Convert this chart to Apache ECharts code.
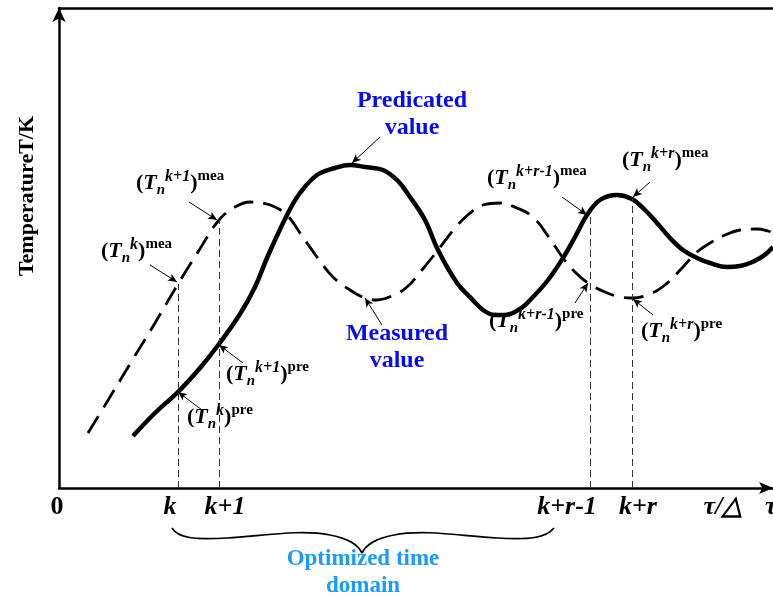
<!DOCTYPE html>
<html><head><meta charset="utf-8">
<script src="https://cdn.jsdelivr.net/npm/echarts@6/dist/echarts.min.js"></script>
<style>html,body{margin:0;padding:0;background:#fff}#c{width:773px;height:599px}</style>
</head><body><div id="c"></div>
<script>
const SERIF = "'Times New Roman','Liberation Serif',serif";

// Predicted temperature (solid curve)
const predX = [74,96,119,141,160,181,196,208,228,241,258,276,291,306,324,339,351,366,379,398,411,424,436,446,461,474,489,504,516,528,541,558,573,586,598,611,624,638,651,668,681,691,701,708,714];
const predY = [52,75,96,120,144,174,201,230,273,295,313,320,323,321,318,307,291,268,238,205,191,178,173,173,179,191,208,230,251,273,288,293,289,278,265,250,238,230,225,221,222,225,230,235,241];
// Measured temperature (dashed curve)
const meaX = [29,51,74,96,119,139,160,176,191,203,216,228,241,258,274,291,306,318,333,348,363,379,396,411,424,441,458,474,489,504,516,529,546,561,573,591,606,624,638,651,666,681,698,709,714];
const meaY = [55,91,129,165,204,236,268,281,286,285,281,273,255,231,211,198,190,188,192,201,218,238,260,275,283,285,280,271,252,230,216,205,196,191,190,194,203,221,236,245,253,258,259,257,255];

// time ticks
const tickValues = [0,119,160,531,573];
const tickLabels = ['0','k','k+1','k+r-1','k+r'];
const tickItalic = [false,true,true,true,true];
const axisNameText = 'τ/△';
const axisEndText = 'τ';
// guide lines
const guideX = [119,160,531,573];
const guideTop = [204,268,275,289];

// annotated points
const annSup  = ['k','k+1','k','k+1','k+r-1','k+r','k+r-1','k+r'];
const annKind = ['mea','mea','pre','pre','mea','mea','pre','pre'];
const annX = [118,158,119,160,528,574,529,574];
const annY = [206,268,96,143,273,291,205,189];

// named value annotations
const valueNames = ['Predicated\nvalue','Measured\nvalue'];
const valueX = [293,306];
const valueY = [325,190];

// ---- layout (pixels / offsets) ----
const annArrowOff = [[-27,17],[-28,18],[24,-18],[24,-18],[-25,18],[17,15],[-13,-20],[20,-16]];
const annTextPos = [[101,237],[136,169],[187,403],[226,360],[487,164],[622,146],[489,307],[641,317]];
const valueArrowOff = [[28,26],[17,-27]];
const valueTextPos = [[412,87],[397,320]];
const tickLabelDx = [-2,-8,6,-23,6];

const chart = echarts.init(document.getElementById('c'));

const arrowData = annX.map((x,i)=>[{coord:[x+annArrowOff[i][0], annY[i]+annArrowOff[i][1]]},{coord:[x, annY[i]]}])
  .concat(valueX.map((x,i)=>[{coord:[x+valueArrowOff[i][0], valueY[i]+valueArrowOff[i][1]]},{coord:[x, valueY[i]]}]));
const guideData = guideX.map((x,i)=>[{coord:[x,0]},{coord:[x,guideTop[i]]}]);

const option = {
  animation:false,
  backgroundColor:'#fff',
  grid:{left:59,right:0,top:8,bottom:111,containLabel:false},
  xAxis:[
    {type:'value',min:0,max:714,position:'bottom',
      axisLine:{show:true,onZero:false,symbol:['none','arrow'],symbolSize:[9,14],symbolOffset:[0,0],lineStyle:{color:'#000',width:2.5}},
      axisTick:{show:false},axisLabel:{show:false},splitLine:{show:false}},
    {type:'value',min:0,max:714,position:'top',
      axisLine:{show:true,onZero:false,lineStyle:{color:'#000',width:2.5}},
      axisTick:{show:false},axisLabel:{show:false},splitLine:{show:false}}
  ],
  yAxis:{type:'value',min:0,max:480,
    axisLine:{show:true,onZero:false,symbol:['none','arrow'],symbolSize:[10,14],symbolOffset:[0,0],lineStyle:{color:'#000',width:2.5}},
    axisTick:{show:false},axisLabel:{show:false},splitLine:{show:false}},
  series:[
    {type:'line',name:'Measured',data:meaX.map((x,i)=>[x,meaY[i]]),smooth:0.4,showSymbol:false,
      lineStyle:{color:'#000',width:2.8,type:[20,10]},z:3,
      markLine:{silent:true,symbol:['none','none'],label:{show:false},
        lineStyle:{color:'#333',width:1,type:[7,4]},data:guideData}},
    {type:'line',name:'Predicted',data:predX.map((x,i)=>[x,predY[i]]),smooth:0.4,showSymbol:false,
      lineStyle:{color:'#000',width:4.5},z:4,
      markLine:{silent:true,symbol:['none','arrow'],symbolSize:[6,9],label:{show:false},
        lineStyle:{color:'#000',width:1,type:'solid'},data:arrowData}}
  ]
};
chart.setOption(option);

function px(x,y){return chart.convertToPixel({gridIndex:0},[x,y]);}
const rich = {
  p:{fontSize:22,fontFamily:SERIF,fontWeight:'bold',lineHeight:29,fill:'#000'},
  T:{fontSize:22,fontFamily:SERIF,fontWeight:'bold',fontStyle:'italic',lineHeight:29,fill:'#000'},
  n:{fontSize:15,fontFamily:SERIF,fontWeight:'bold',fontStyle:'italic',lineHeight:12,verticalAlign:'bottom',fill:'#000'},
  s:{fontSize:16,fontFamily:SERIF,fontWeight:'bold',fontStyle:'italic',lineHeight:14,verticalAlign:'top',fill:'#000'},
  m:{fontSize:15,fontFamily:SERIF,fontWeight:'bold',lineHeight:14,verticalAlign:'top',fill:'#000'}
};
const graphics = [];
annSup.forEach((s,i)=>{
  graphics.push({type:'text',x:annTextPos[i][0],y:annTextPos[i][1],silent:true,
    style:{text:'{p|(}{T|T}{n|n}{s|'+s+'}{p|)}{m|'+annKind[i]+'}',rich:rich,align:'left',verticalAlign:'top'}});
});
valueNames.forEach((t,i)=>{
  graphics.push({type:'text',x:valueTextPos[i][0],y:valueTextPos[i][1],silent:true,
    style:{text:t,fill:'#0a0aee',font:'bold 24px '+SERIF,lineHeight:27,align:'center',verticalAlign:'top'}});
});
tickValues.forEach((v,i)=>{
  const p = px(v,0);
  graphics.push({type:'text',x:p[0]+tickLabelDx[i],y:p[1]+19,silent:true,
    style:{text:tickLabels[i],fill:'#000',font:(tickItalic[i]?'italic ':'')+'bold 26px '+SERIF,align:'center',verticalAlign:'middle'}});
});
graphics.push({type:'text',x:723,y:507,silent:true,style:{text:axisNameText,fill:'#000',font:'italic bold 26px '+SERIF,align:'center',verticalAlign:'middle'}});
graphics.push({type:'text',x:765,y:507,silent:true,style:{text:axisEndText,fill:'#000',font:'italic bold 26px '+SERIF,align:'left',verticalAlign:'middle'}});
graphics.push({type:'text',x:27,y:196,rotation:Math.PI/2,silent:true,style:{text:'TemperatureT/K',fill:'#000',font:'bold 22px '+SERIF,align:'center',verticalAlign:'middle'}});
// curly brace under the optimized time domain
const braceSegs = [
  [172,528,178,538,195,540,227,538],
  [227,538,262,536,300,529,330,535],
  [330,535,350,539,358,545,362,553],
  [362,553,366,545,374,539,394,535],
  [394,535,424,529,462,536,497,538],
  [497,538,529,540,546,538,554,528]
];
braceSegs.forEach(s=>{
  graphics.push({type:'bezierCurve',silent:true,
    shape:{x1:s[0],y1:s[1],cpx1:s[2],cpy1:s[3],cpx2:s[4],cpy2:s[5],x2:s[6],y2:s[7]},
    style:{fill:null,stroke:'#000',lineWidth:1.7}});
});
graphics.push({type:'text',x:363,y:546,silent:true,style:{text:'Optimized time\ndomain',fill:'#1a9cf4',font:'bold 23px '+SERIF,lineHeight:27,align:'center',verticalAlign:'top'}});
chart.setOption({graphic:graphics});
</script>
</body></html>
